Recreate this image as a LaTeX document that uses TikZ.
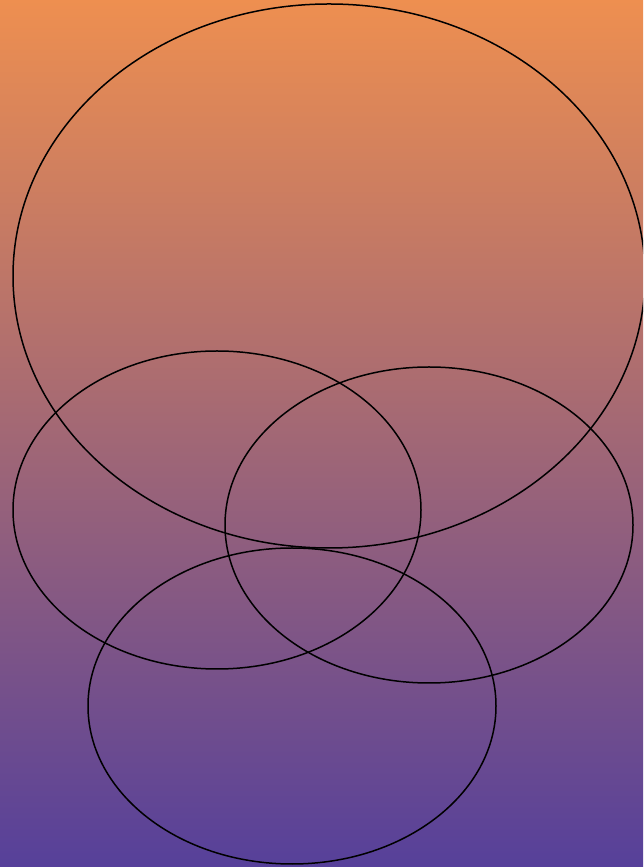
\documentclass[tikz,border=0pt]{standalone}
\usepackage{xcolor}
\definecolor{topcol}{HTML}{EE8F50}
\definecolor{botcol}{HTML}{56409A}
\tikzset{ring/.style={draw=black, line width=1.5pt}}

\begin{document}
\begin{tikzpicture}[x=1pt, y=1pt]
    % background
    \useasboundingbox (0,0) rectangle (643,867);
    \clip (0,0) rectangle (643,867);
    \shade[top color=topcol, bottom color=botcol] (0,0) rectangle (643,867);

    % large ellipse
    \draw[ring] (329,591) ellipse [x radius=316, y radius=272];

    % smaller ellipses
    \draw[ring] (217,357) ellipse [x radius=204, y radius=159];
    \draw[ring] (429,342) ellipse [x radius=204, y radius=158];
    \draw[ring] (292,161) ellipse [x radius=204, y radius=158];
\end{tikzpicture}
\end{document}
